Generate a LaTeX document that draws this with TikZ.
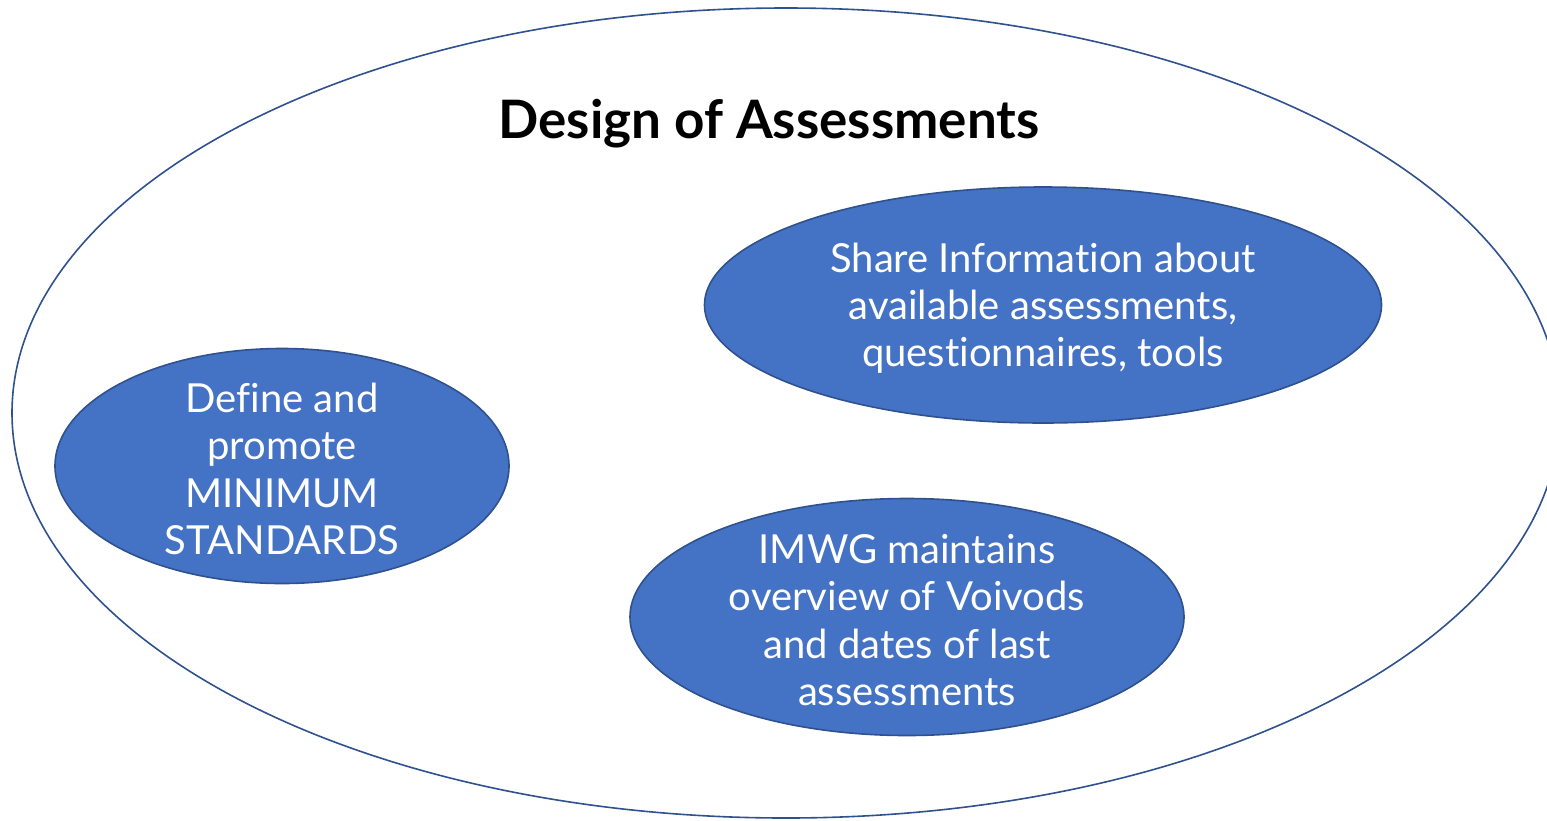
\documentclass[tikz,border=0pt]{standalone}
\usepackage{fontspec}
\setmainfont{Lato}[Ligatures=NoCommon]
\usetikzlibrary{shapes.geometric}
\definecolor{assessfill}{RGB}{68,114,196}
\definecolor{assessline}{RGB}{47,82,143}

\begin{document}
\begin{tikzpicture}[x=0.5pt, y=-0.5pt,
  blob/.style={ellipse, draw=assessline, fill=assessfill, line width=0.8pt, inner sep=0pt},
  blobtext/.style={text=white, align=center, yshift=-1.5pt, font=\fontsize{20}{23.65}\selectfont}]
  \useasboundingbox (0,0) rectangle (1547,820);
  % outer ellipse
  \node[ellipse, draw=assessline, line width=0.8pt, minimum width=774pt, minimum height=405pt, inner sep=0pt] (design) at (786,413) {};
  \node[font=\fontsize{26.5}{30}\selectfont\bfseries] (title) at (769,124) {Design of Assessments};
  % activities
  \node[blob, minimum width=227pt, minimum height=117.5pt,
        label={[blobtext]center:{Define and\\promote\\MINIMUM\\STANDARDS}}] (standards) at (282,466) {};
  \node[blob, minimum width=338.5pt, minimum height=118pt,
        label={[blobtext]center:{Share Information about\\available assessments,\\questionnaires, tools}}] (share) at (1043,305) {};
  \node[blob, minimum width=277pt, minimum height=118.5pt,
        label={[blobtext]center:{IMWG maintains\\overview of Voivods\\and dates of last\\assessments}}] (imwg) at (907,617) {};
\end{tikzpicture}
\end{document}
